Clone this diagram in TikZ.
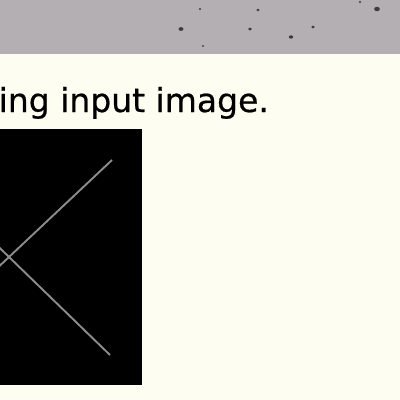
\documentclass[tikz,border=0pt]{standalone}
\usepackage{fontspec}
\setmainfont{DejaVu Sans}
\newfontfamily\capfont[FakeBold=0.6]{DejaVu Sans}
\definecolor{cream}{HTML}{FDFDF2}
\definecolor{band}{HTML}{B4AFB3}
\definecolor{speck}{HTML}{3E3A3E}
\definecolor{xline}{HTML}{8C8C8C}
\begin{document}
\begin{tikzpicture}[x=1pt,y=-1pt,
  speckdot/.style={fill=speck,draw=none},
  xstroke/.style={draw=xline,line width=1.9pt}]
\useasboundingbox (0,0) rectangle (400,400);
\clip (0,0) rectangle (400,400);
\fill[cream] (0,0) rectangle (400,400);
\fill[band] (0,0) rectangle (400,53.5);
\foreach \p/\r in {{(181,29)/1.9},{(258,10)/1.3},{(250,29)/1.5},{(291,37)/1.7},{(313,27)/1.4},{(377,9)/2.2},{(200,9)/1.0},{(203,46)/0.9},{(360,2)/1.0}}
  \fill[speckdot] \p ellipse ({\r*1.3} and \r);
\node[anchor=base west,inner sep=0pt,font=\capfont\fontsize{33}{38}\selectfont,text=black] (caption) at (-1.5,112) {ing input image.};
\fill[black] (-1,129) rectangle (141.5,385);
\coordinate (a1) at (112,160);
\coordinate (a2) at (-5,270.2);
\coordinate (b1) at (110,355);
\coordinate (b2) at (-5,243.4);
\draw[xstroke] (a1) -- (a2);
\draw[xstroke] (b1) -- (b2);
\end{tikzpicture}
\end{document}
